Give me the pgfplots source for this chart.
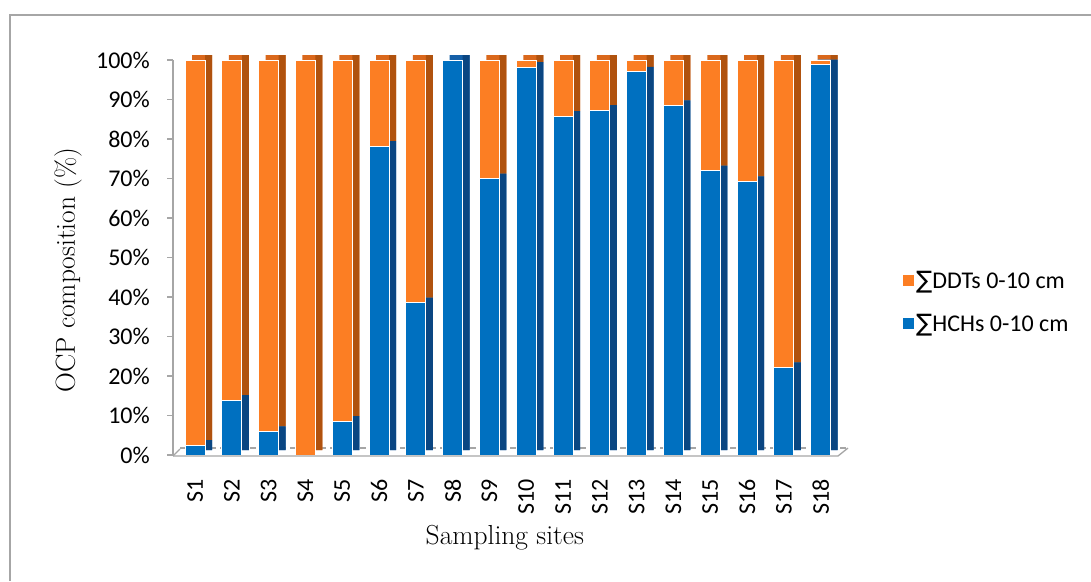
\documentclass[border=0pt]{standalone}
\usepackage{fontspec}
\usepackage{pgfplots}
\pgfplotsset{compat=1.18}
\usepackage{pgfplotstable}
\newfontfamily\carlito{Carlito}
\newfontfamily\dejavu{DejaVu Sans}
\definecolor{hchF}{HTML}{0070C0}
\definecolor{hchS}{HTML}{0A4682}
\definecolor{hchT}{HTML}{1560A8}
\definecolor{ddtF}{HTML}{FC7E23}
\definecolor{ddtS}{HTML}{B0520E}
\definecolor{ddtT}{HTML}{DA681C}
\definecolor{framec}{HTML}{A6A6A6}

\pgfplotstableread{
x hch ddt
0 2.5 97.5
1 13.9 86.1
2 6.0 94.0
3 0 100
4 8.6 91.4
5 78.2 21.8
6 38.6 61.4
7 100 0
8 70.0 30.0
9 98.2 1.8
10 85.8 14.2
11 87.3 12.7
12 97.0 3.0
13 88.5 11.5
14 72.0 28.0
15 69.3 30.7
16 22.2 77.8
17 98.8 1.2
}\data

\pgfplotsset{base/.style={ybar stacked, x=36.8pt, y=3.95pt, xmin=-0.6, xmax=17.47, ymin=0, ymax=100, anchor=south west, clip=false}}

\begin{document}
\begin{tikzpicture}
\useasboundingbox (0,0) rectangle (1091pt,-581pt);
\draw[framec, line width=1.5pt] (10pt,-581pt) -- (10pt,-15pt) -- (1091pt,-15pt);
\draw[framec, line width=1.3pt, dash pattern=on 6pt off 4pt] (180pt,-448pt) -- (848pt,-448pt);
% top caps
\begin{axis}[base, hide axis, at={(180pt,-450pt)}, bar width=20pt]
\addplot[fill=hchT, draw=none] table[x=x,y=hch]{\data};
\addplot[fill=ddtT, draw=none] table[x=x,y=ddt]{\data};
\end{axis}
% side faces
\begin{axis}[base, hide axis, at={(173pt,-450pt)}, bar width=7pt, bar shift=13.5pt]
\addplot[fill=hchS, draw=none] table[x=x,y=hch]{\data};
\addplot[fill=ddtS, draw=none] table[x=x,y=ddt]{\data};
\end{axis}
% front faces
\begin{axis}[base, at={(173pt,-455pt)}, bar width=20pt,
  axis lines*=left,
  x axis line style={draw=none},
  y axis line style={framec, line width=1.3pt},
  xtick={0,...,17},
  xticklabels={S1,S2,S3,S4,S5,S6,S7,S8,S9,S10,S11,S12,S13,S14,S15,S16,S17,S18},
  x tick style={draw=none},
  xticklabel style={font=\carlito\fontsize{24}{28}\selectfont, rotate=90, anchor=east, inner sep=0pt},
  xticklabel shift=18pt,
  ytick={0,10,...,100},
  yticklabels={0\%,10\%,20\%,30\%,40\%,50\%,60\%,70\%,80\%,90\%,100\%},
  y tick style={framec, line width=1.3pt},
  tick align=outside,
  major tick length=6pt,
  yticklabel style={font=\carlito\fontsize{24}{28}\selectfont, inner sep=0pt},
  yticklabel shift=17pt,
  xlabel={Sampling sites},
  ylabel={OCP composition (\%)},
  xlabel style={font=\fontsize{27.5}{32}\selectfont, at={(axis description cs:0.499,-0.21)}, anchor=center},
  ylabel style={font=\fontsize{27.5}{32}\selectfont, at={(axis description cs:-0.158,0.468)}, anchor=center, rotate=0},
  reverse legend,
  legend image code/.code={\fill[#1,draw=none] (0pt,-5.5pt) rectangle (11pt,5.5pt);},
  legend style={draw=none, fill=none, font=\carlito\fontsize{24}{28}\selectfont, at={(1.0977,0.387)}, anchor=west, inner sep=0pt, row sep=20pt, cells={anchor=west}},
]
\addplot[fill=hchF, draw=white, line width=0.8pt] table[x=x,y=hch]{\data};
\addlegendentry{{\dejavu ∑}HCHs 0-10 cm}
\addplot[fill=ddtF, draw=white, line width=0.8pt] table[x=x,y=ddt]{\data};
\addlegendentry{{\dejavu ∑}DDTs 0-10 cm}
\end{axis}
% floor
\draw[framec, line width=1.3pt] (173pt,-456pt) -- (838pt,-456pt) -- (848pt,-448pt);
\draw[framec, line width=1.3pt] (173pt,-456pt) -- (180pt,-449pt);
\end{tikzpicture}
\end{document}
